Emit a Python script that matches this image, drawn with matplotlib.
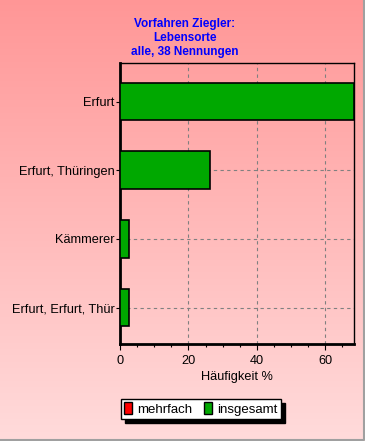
import numpy as np
import matplotlib
matplotlib.use('Agg')
import matplotlib.pyplot as plt
from matplotlib.patches import Patch
from matplotlib.lines import Line2D
from matplotlib.colors import LinearSegmentedColormap
from matplotlib.ticker import MultipleLocator

plt.rcParams['font.family'] = ['Liberation Sans', 'DejaVu Sans']

# Lebensorte, Anteil an 38 Nennungen
orte = ['Erfurt', 'Erfurt, Thüringen', 'Kämmerer', 'Erfurt, Erfurt, Thür']
insgesamt = [68.4, 26.3, 2.6, 2.6]
mehrfach = [0, 0, 0, 0]
title = 'Vorfahren Ziegler:\nLebensorte\nalle, 38 Nennungen'

fig = plt.figure(figsize=(3.65, 4.41), dpi=100)

# pink gradient background
bg = fig.add_axes([0, 0, 1, 1], zorder=-5)
bgcmp = LinearSegmentedColormap.from_list('', [(1, 0.59, 0.59), (1, 0.86, 0.86)])
bg.imshow(np.linspace(0, 1, 256).reshape(-1, 1), aspect='auto', cmap=bgcmp,
          extent=[0, 1, 0, 1])
bg.axis('off')
# grey frame right and bottom
fig.add_artist(Line2D([0, 0.998, 0.998], [0.002, 0.002, 1], transform=fig.transFigure,
                      color='#a0a0a0', lw=1.5))

ax = fig.add_axes([0.3288, 0.22, 0.641, 0.637])
ax.set_facecolor('none')
y = np.arange(len(orte))
ax.barh(y, mehrfach, height=0.55, color='#ff0000', edgecolor='black', lw=1, zorder=3)
ax.barh(y, insgesamt, height=0.55, color='#00a800', edgecolor='black', lw=1.2, zorder=3)

ax.set_yticks(y)
ax.set_yticklabels(orte, fontsize=9.2)
ax.set_ylim(3.53, -0.56)
ax.set_xlim(0, 68.4)
ax.xaxis.set_major_locator(MultipleLocator(20))
ax.xaxis.set_minor_locator(MultipleLocator(5))
ax.tick_params(axis='x', labelsize=9.2, length=4, width=0.8, pad=4)
ax.tick_params(axis='x', which='minor', length=2, width=0.8)
ax.tick_params(axis='y', length=3, width=0.8, pad=1)
ax.grid(True, which='major', ls=(0, (3, 3)), color='#808080', lw=0.8, zorder=1)
for s in ['left', 'bottom']:
    ax.spines[s].set_linewidth(2)
for s in ['top', 'right']:
    ax.spines[s].set_linewidth(1)
ax.set_xlabel('Häufigkeit %', fontsize=9.2, labelpad=3)

fig.text(0.507, 0.914, title, ha='center', va='center', color='#0000ff',
         fontsize=8.5, fontweight='bold', linespacing=1.2)

handles = [Patch(facecolor='#ff0000', edgecolor='black', label='mehrfach'),
           Patch(facecolor='#00a800', edgecolor='black', label='insgesamt')]
leg = fig.legend(handles=handles, loc='center', bbox_to_anchor=(0.55, 0.073),
                 ncol=2, fontsize=9.5, frameon=True, fancybox=False,
                 shadow={'color': 'black', 'alpha': 1, 'ox': 3, 'oy': -3},
                 handlelength=0.6, handleheight=1.0, handletextpad=0.4,
                 columnspacing=0.9, borderpad=0.25, borderaxespad=0)
leg.get_frame().set_edgecolor('black')
leg.get_frame().set_facecolor('white')
leg.get_frame().set_linewidth(1)

fig.savefig('out.png', dpi=100)
